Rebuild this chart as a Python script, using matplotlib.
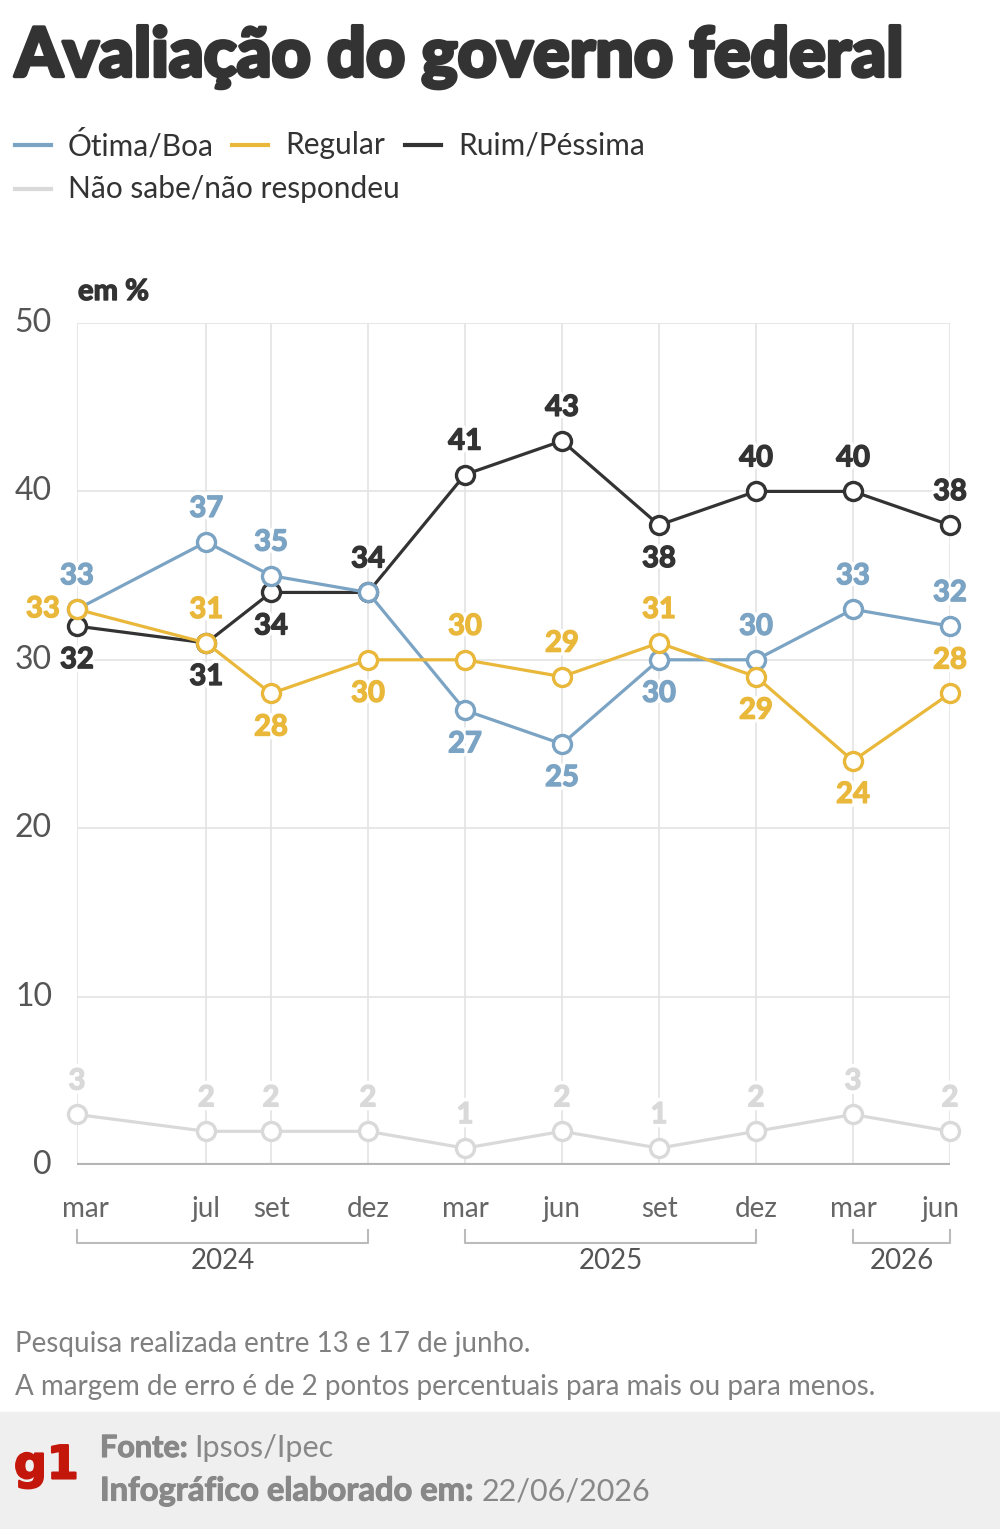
import matplotlib
matplotlib.use("Agg")
import matplotlib.pyplot as plt
import matplotlib.patheffects as pe
from matplotlib.patches import Rectangle

# dados (mês contado a partir de mar/2024)
meses = [0, 4, 6, 9, 12, 15, 18, 21, 24, 27]
meses_txt = ["mar", "jul", "set", "dez", "mar", "jun", "set", "dez", "mar", "jun"]
anos = [("2024", 0, 9), ("2025", 12, 21), ("2026", 24, 27)]

otima_boa = [33, 37, 35, 34, 27, 25, 30, 30, 33, 32]
regular = [33, 31, 28, 30, 30, 29, 31, 29, 24, 28]
ruim_pessima = [32, 31, 34, 34, 41, 43, 38, 40, 40, 38]
nao_sabe = [3, 2, 2, 2, 1, 2, 1, 2, 3, 2]

yticks = [0, 10, 20, 30, 40, 50]

# onde fica o rótulo de cada ponto: a=acima, b=abaixo, e=esquerda, n=nenhum
pos_otima = ["a", "a", "a", "n", "b", "b", "b", "a", "a", "a"]
pos_regular = ["e", "a", "b", "b", "a", "a", "a", "b", "b", "a"]
pos_ruim = ["b", "b", "b", "a", "a", "a", "b", "a", "a", "a"]
pos_ns = ["a"] * 10

AZUL = "#7ba3c3"
AMARELO = "#e9b83b"
PRETO = "#333333"
CINZA = "#d9d9d9"

W, H = 1000, 1529
fig = plt.figure(figsize=(W / 100, H / 100), dpi=100)
plt.rcParams["font.family"] = ["Lato", "DejaVu Sans"]


def fx(px):
    return px / W


def fy(py):
    return 1 - py / H


def grosso(cor, w=1.2, halo=0):
    efs = []
    if halo:
        efs.append(pe.Stroke(linewidth=halo, foreground="white"))
    efs += [pe.Stroke(linewidth=w, foreground=cor), pe.Normal()]
    return efs


ax = fig.add_axes([fx(77), fy(1165), fx(950) - fx(77), fy(323) - fy(1165)])
ax.set_xlim(0, 27)
ax.set_ylim(0, 50)
for s in ax.spines.values():
    s.set_visible(False)
ax.set_xticks([])
ax.set_yticks([])

for v in yticks[1:]:
    ax.axhline(v, color="#e3e3e3", lw=1.2, zorder=0)
for m in meses:
    ax.axvline(m, color="#e3e3e3", lw=1.2, zorder=0)
ax.axhline(0, color="#b5b5b5", lw=3, zorder=1, solid_capstyle="butt")

series = [
    (nao_sabe, CINZA, pos_ns, 2),
    (ruim_pessima, PRETO, pos_ruim, 3),
    (otima_boa, AZUL, pos_otima, 4),
    (regular, AMARELO, pos_regular, 5),
]
for vals, cor, pos, z in series:
    ax.plot(meses, vals, color=cor, lw=2.3, marker="o", ms=13, mfc="white",
            mec=cor, mew=2.4, zorder=z, clip_on=False)
    for m, v, p in zip(meses, vals, pos):
        if p == "n":
            continue
        if p == "a":
            off, ha = (0, 33), "center"
        elif p == "b":
            off, ha = (0, -34), "center"
        else:
            off, ha = (-17, 0), "right"
        ax.annotate(str(v), (m, v), xytext=off, textcoords="offset pixels",
                    ha=ha, va="center", fontsize=21, fontweight="bold", color=cor,
                    zorder=10, path_effects=grosso(cor, 1.0, 6), annotation_clip=False)

# eixo y
for v in yticks:
    py = 1165 - v * (1165 - 323) / 50
    fig.text(fx(52), fy(py), str(v), ha="right", va="center", fontsize=23, color="#555555")
fig.text(fx(78), fy(292), "em %", ha="left", va="center", fontsize=21, fontweight="bold",
         color=PRETO, path_effects=grosso(PRETO, 1.0))

# eixo x
alinh = ["left"] + ["center"] * 8 + ["right"]
for m, t, a in zip(meses, meses_txt, alinh):
    px = 77 + m * (950 - 77) / 27
    if a == "left":
        px -= 15
    elif a == "right":
        px += 10
    fig.text(fx(px), fy(1209), t, ha=a, va="center", fontsize=20, color="#666666")
for ano, a, b in anos:
    x0 = 77 + a * (950 - 77) / 27
    x1 = 77 + b * (950 - 77) / 27
    fig.add_artist(plt.Line2D([fx(x0), fx(x0), fx(x1), fx(x1)],
                              [fy(1230), fy(1243), fy(1243), fy(1230)],
                              color="#bbbbbb", lw=1.5))
    fig.text(fx((x0 + x1) / 2), fy(1261), ano, ha="center", va="center", fontsize=20, color="#555555")

# título e legenda
fig.text(fx(15), fy(58), "Avaliação do governo federal", ha="left", va="center",
         fontsize=49, fontweight="black", color="#333333", path_effects=grosso("#333333", 2.5))
leg = [("Ótima/Boa", AZUL, 15, 145), ("Regular", AMARELO, 232, 145),
       ("Ruim/Péssima", PRETO, 405, 145), ("Não sabe/não respondeu", CINZA, 15, 189)]
for txt, cor, x, y in leg:
    fig.add_artist(plt.Line2D([fx(x), fx(x + 36)], [fy(y), fy(y)], color=cor, lw=3))
    fig.text(fx(x + 53), fy(y), txt, ha="left", va="center", fontsize=21.5, color="#333333")

# notas
fig.text(fx(15), fy(1344), "Pesquisa realizada entre 13 e 17 de junho.",
         ha="left", va="center", fontsize=20, color="#808080")
fig.text(fx(15), fy(1387), "A margem de erro é de 2 pontos percentuais para mais ou para menos.",
         ha="left", va="center", fontsize=20, color="#808080")

# rodapé
fig.add_artist(Rectangle((0, 0), 1, fy(1412), transform=fig.transFigure,
                         color="#efefef", zorder=0))
fig.text(fx(14), fy(1466), "g1", ha="left", va="center", fontsize=33, family="DejaVu Sans",
         fontweight="bold", color="#c4170c", path_effects=grosso("#c4170c", 1.5))
fig.text(fx(100), fy(1448), "Fonte:", ha="left", va="center", fontsize=22,
         fontweight="bold", color="#888888", path_effects=grosso("#888888", 0.8))
fig.text(fx(194), fy(1448), "Ipsos/Ipec", ha="left", va="center", fontsize=22, color="#888888")
fig.text(fx(100), fy(1491), "Infográfico elaborado em:", ha="left", va="center", fontsize=23.5,
         fontweight="bold", color="#888888", path_effects=grosso("#888888", 0.8))
fig.text(fx(482), fy(1491), "22/06/2026", ha="left", va="center", fontsize=22, color="#888888")

fig.savefig("out.png", dpi=100, facecolor="white")
